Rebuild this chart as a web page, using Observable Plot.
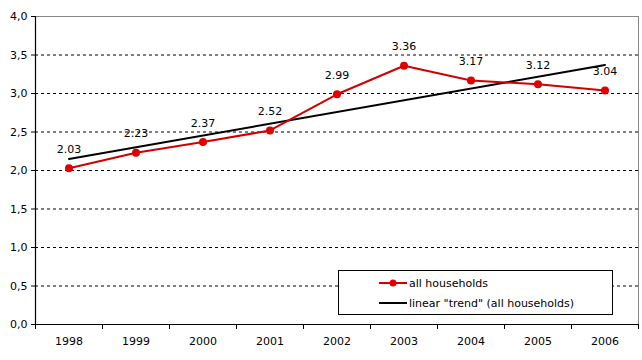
<!DOCTYPE html>
<html>
<head>
<meta charset="utf-8">
<script src="https://cdn.jsdelivr.net/npm/d3@7"></script>
<script src="https://cdn.jsdelivr.net/npm/@observablehq/plot@0.6"></script>
<style>
  html, body { margin: 0; padding: 0; background: #fff; }
  #wrap { position: relative; width: 642px; height: 360px; font-family: "DejaVu Sans", Verdana, sans-serif; }
  #legend { position: absolute; left: 338px; top: 270px; width: 275px; height: 45px; border: 1px solid #000; background: #fff; font-size: 11px; box-sizing: border-box; }
  .row { position: absolute; left: 40px; height: 14px; display: flex; align-items: center; }
  .row span { margin-left: 2px; }
</style>
</head>
<body>
<div id="wrap"></div>
<script>
const years = [1998, 1999, 2000, 2001, 2002, 2003, 2004, 2005, 2006];
const values = [2.03, 2.23, 2.37, 2.52, 2.99, 3.36, 3.17, 3.12, 3.04];
const trendYears = [1998, 2006];
const trendValues = [2.15, 3.37];
const yTicks = [0, 0.5, 1, 1.5, 2, 2.5, 3, 3.5, 4];
const gridLines = [0.5, 1, 1.5, 2, 2.5, 3, 3.5];

const data = years.map((y, i) => ({year: y, value: values[i]}));
const trend = trendYears.map((y, i) => ({year: y, value: trendValues[i]}));
const fmt = d3.format(".1f");
const red = "#e00000";

const chart = Plot.plot({
  width: 642,
  height: 360,
  marginLeft: 35,
  marginRight: 4,
  marginTop: 16,
  marginBottom: 36,
  style: {fontFamily: "'DejaVu Sans', Verdana, sans-serif", fontSize: "11px", color: "#000", background: "#fff"},
  x: {type: "linear", domain: [1997.5, 2006.5]},
  y: {domain: [0, 4]},
  marks: [
    Plot.ruleY(gridLines, {stroke: "#000", strokeDasharray: "3,3", strokeWidth: 1}),
    Plot.ruleY([4], {stroke: "#888", strokeWidth: 1}),
    Plot.ruleX([2006.5], {stroke: "#888", strokeWidth: 1}),
    Plot.axisY({ticks: yTicks, tickFormat: d => fmt(d).replace(".", ","), tickSize: 4, tickPadding: 4, label: null, stroke: "#000", fill: "#000"}),
    Plot.axisX({ticks: d3.range(1997.5, 2007, 1), tickFormat: () => "", tickSize: 5, label: null, stroke: "#000"}),
    Plot.axisX({ticks: years, tickFormat: d => String(d), tickSize: 0, tickPadding: 13, label: null, fill: "#000"}),
    Plot.ruleX([1997.5], {stroke: "#000", strokeWidth: 1.2}),
    Plot.ruleY([0], {stroke: "#000", strokeWidth: 1.2}),
    Plot.line(trend, {x: "year", y: "value", stroke: "#000", strokeWidth: 2}),
    Plot.line(data, {x: "year", y: "value", stroke: "#d00000", strokeWidth: 2}),
    Plot.dot(data, {x: "year", y: "value", r: 4, fill: red, stroke: "none"}),
    Plot.text(data, {x: "year", y: "value", text: d => d.value.toFixed(2), dy: -19, fill: "#000", fontSize: 11})
  ]
});

const wrap = document.getElementById("wrap");
wrap.appendChild(chart);

const legend = document.createElement("div");
legend.id = "legend";
legend.innerHTML = `
  <div class="row" style="top:5px">
    <svg width="28" height="10"><line x1="0" y1="5" x2="28" y2="5" stroke="#d00000" stroke-width="2"/><circle cx="14" cy="5" r="3.5" fill="${red}"/></svg>
    <span>all households</span>
  </div>
  <div class="row" style="top:25px">
    <svg width="28" height="10"><line x1="0" y1="5" x2="28" y2="5" stroke="#000" stroke-width="2"/></svg>
    <span>linear "trend" (all households)</span>
  </div>`;
wrap.appendChild(legend);
</script>
</body>
</html>
